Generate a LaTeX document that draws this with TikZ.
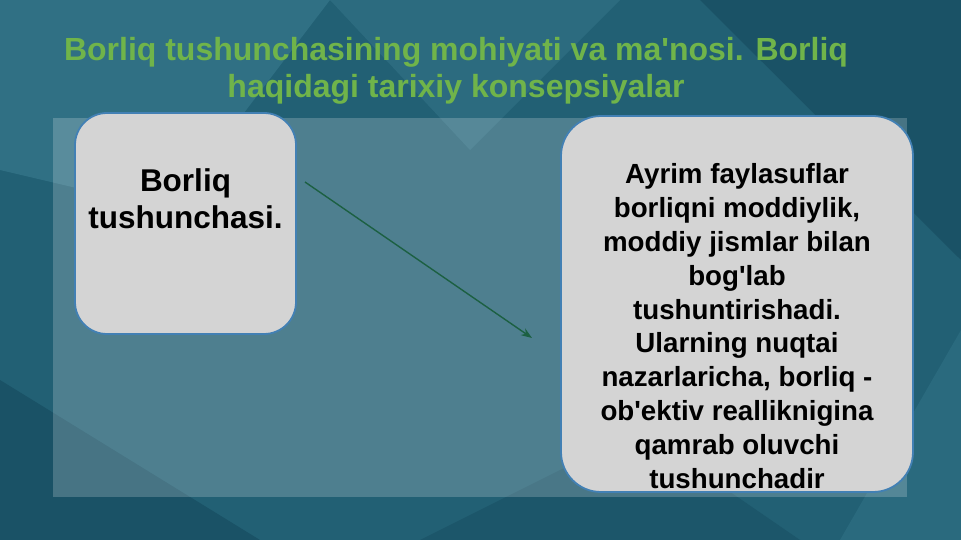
\documentclass[tikz,border=0pt]{standalone}
\usepackage{fontspec}
\setmainfont{Liberation Sans}
\usepackage{tikz}
\usetikzlibrary{positioning,arrows.meta}
\definecolor{bgteal}{RGB}{34,96,116}
\definecolor{bglight}{RGB}{48,112,132}
\definecolor{bgdark}{RGB}{26,82,102}
\definecolor{titlegreen}{RGB}{112,180,74}
\definecolor{boxgray}{RGB}{212,212,212}
\definecolor{boxblue}{RGB}{66,128,180}
\definecolor{arrowgreen}{RGB}{28,96,66}

\begin{document}
\begin{tikzpicture}[
  x=1pt, y=-1pt,
  box/.style={draw=boxblue, line width=1.8pt, fill=boxgray, rounded corners=32pt},
  boxtext/.style={font=\bfseries, align=center, text=black, inner sep=0pt},
  title/.style={font=\bfseries\fontsize{32}{37}\selectfont, text=titlegreen, align=center},
  link/.style={draw=arrowgreen, line width=1.4pt, -{Stealth[length=11pt,width=8pt]}}
]
\useasboundingbox (0,0) rectangle (961,540);

% background facets
\fill[bgteal] (0,0) rectangle (961,540);
\fill[bglight] (0,0) -- (330,0) -- (170,210) -- (0,170) -- cycle;
\fill[bglight!70!bgteal] (330,0) -- (620,0) -- (470,150) -- cycle;
\fill[bgdark] (700,0) -- (961,0) -- (961,260) -- cycle;
\fill[bgdark] (0,380) -- (260,540) -- (0,540) -- cycle;
\fill[bgdark!70!bgteal] (420,540) -- (640,430) -- (800,540) -- cycle;
\fill[bglight!60!bgteal] (961,330) -- (961,540) -- (840,540) -- cycle;

% panel
\fill[white, opacity=0.2] (53,118) rectangle (907,497);

\node[title] (heading) at (456,71)
  {Borliq tushunchasining mohiyati va ma\textquotesingle nosi. Borliq\\haqidagi tarixiy konsepsiyalar};

\node[box, minimum width=221pt, minimum height=221pt] (concept) at (185.5,223.5) {};
\node[boxtext, font=\bfseries\fontsize{31.5}{37}\selectfont, below=56pt of concept.north] (conceptText)
  {Borliq\\tushunchasi.};

\node[box, rounded corners=40pt, minimum width=352pt, minimum height=376pt] (view) at (737,304) {};
\node[boxtext, font=\bfseries\fontsize{27.7}{33.8}\selectfont] (viewText) at (737,326)
  {Ayrim faylasuflar\\borliqni moddiylik,\\moddiy jismlar bilan\\bog\textquotesingle lab\\tushuntirishadi.\\Ularning nuqtai\\nazarlaricha, borliq -\\ob\textquotesingle ektiv realliknigina\\qamrab oluvchi\\tushunchadir};

\coordinate (linkStart) at (305,182);
\coordinate (linkEnd) at (532,338);
\draw[link] (linkStart) -- (linkEnd);

\end{tikzpicture}
\end{document}
